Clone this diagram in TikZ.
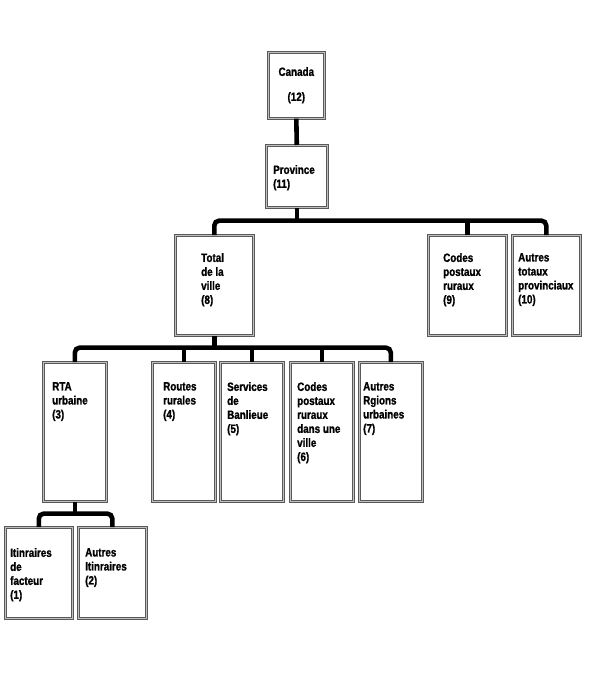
\documentclass[tikz,border=0pt]{standalone}
\usepackage{fontspec}
\setmainfont[FakeStretch=0.82, BoldFeatures={FakeBold=1.2}]{Liberation Sans}
\usetikzlibrary{positioning}
\tikzset{
    boite/.style={draw=black!65, line width=0.6pt, double=black!25, double distance=1.6pt,
                  anchor=north west, inner sep=0pt},
    etiq/.style={font=\bfseries\fontsize{12}{14}\selectfont, align=left, inner sep=0pt},
    lien/.style={line width=4.6pt, rounded corners=5pt},
}
\begin{document}
\begin{tikzpicture}[x=1pt, y=-1pt]
        \useasboundingbox (0,0) rectangle (590,678);
        % ── Canada et Province ───────────────────────────────
        \node[boite, etiq, align=center, minimum width=56pt, minimum height=66pt] (can) at (268,52) {Canada\\[11pt](12)};
        \node[boite, minimum width=61pt, minimum height=62pt] (pro) at (266,145) {};
        \node[etiq, below right=20pt and 7pt of pro.north west] (tpro) {Province\\(11)};
        \draw[lien] (can.south) -- (pro.south |- pro.north);
        % ── niveau provincial ────────────────────────────────
        \node[boite, minimum width=78pt, minimum height=100pt] (tot) at (175,235) {};
        \node[etiq, below right=18pt and 26pt of tot.north west] (ttot) {Total\\de la\\ville\\(8)};
        \node[boite, minimum width=78pt, minimum height=100pt] (cod9) at (428,235) {};
        \node[etiq, below right=18pt and 15pt of cod9.north west] (tcod9) {Codes\\postaux\\ruraux\\(9)};
        \node[boite, minimum width=68pt, minimum height=100pt] (aut10) at (512,235) {};
        \node[etiq, below right=18pt and 6pt of aut10.north west] (taut10) {Autres\\totaux\\provinciaux\\(10)};
        % barre sous Province
        \coordinate (j2) at ([yshift=-13pt]pro.south);
        \draw[lien] (pro.south) -- (j2);
        \draw[lien] (tot.north) |- (j2) -| (aut10.north);
        \draw[lien] (cod9.north) -- (cod9.north |- j2);
        % ── niveau de la ville ───────────────────────────────
        \foreach \nom/\x/\dx/\txt in {rta/43/9/{RTA\\urbaine\\(3)},
                                      rou/152/11/{Routes\\rurales\\(4)},
                                      ser/220/7/{Services\\de\\Banlieue\\(5)},
                                      cod6/290/7/{Codes\\postaux\\ruraux\\dans une\\ville\\(6)},
                                      aut7/359/4/{Autres\\Rgions\\urbaines\\(7)}} {
            \node[boite, minimum width=63pt, minimum height=139pt] (\nom) at (\x,362) {};
            \node[etiq, below right=20pt and \dx pt of \nom.north west] (t\nom) {\txt};
        }
        % barre sous Total de la ville
        \coordinate (j3) at ([yshift=-12pt]tot.south);
        \draw[lien] (tot.south) -- (j3);
        \draw[lien] (rta.north) |- (j3) -| (aut7.north);
        \foreach \nom in {rou, ser, cod6}
            \draw[lien] (\nom.north) -- (\nom.north |- j3);
        % ── itinéraires sous RTA urbaine ─────────────────────
        \node[boite, minimum width=67pt, minimum height=91pt] (iti1) at (5,527) {};
        \node[etiq, below right=21pt and 5pt of iti1.north west] (titi1) {Itinraires\\de\\facteur\\(1)};
        \node[boite, minimum width=68pt, minimum height=91pt] (iti2) at (78,527) {};
        \node[etiq, below right=21pt and 7pt of iti2.north west] (titi2) {Autres\\Itinraires\\(2)};
        \coordinate (j4) at ([yshift=-12pt]rta.south);
        \draw[lien] (rta.south) -- (j4);
        \draw[lien] (iti1.north) |- (j4) -| (iti2.north);
\end{tikzpicture}
\end{document}
